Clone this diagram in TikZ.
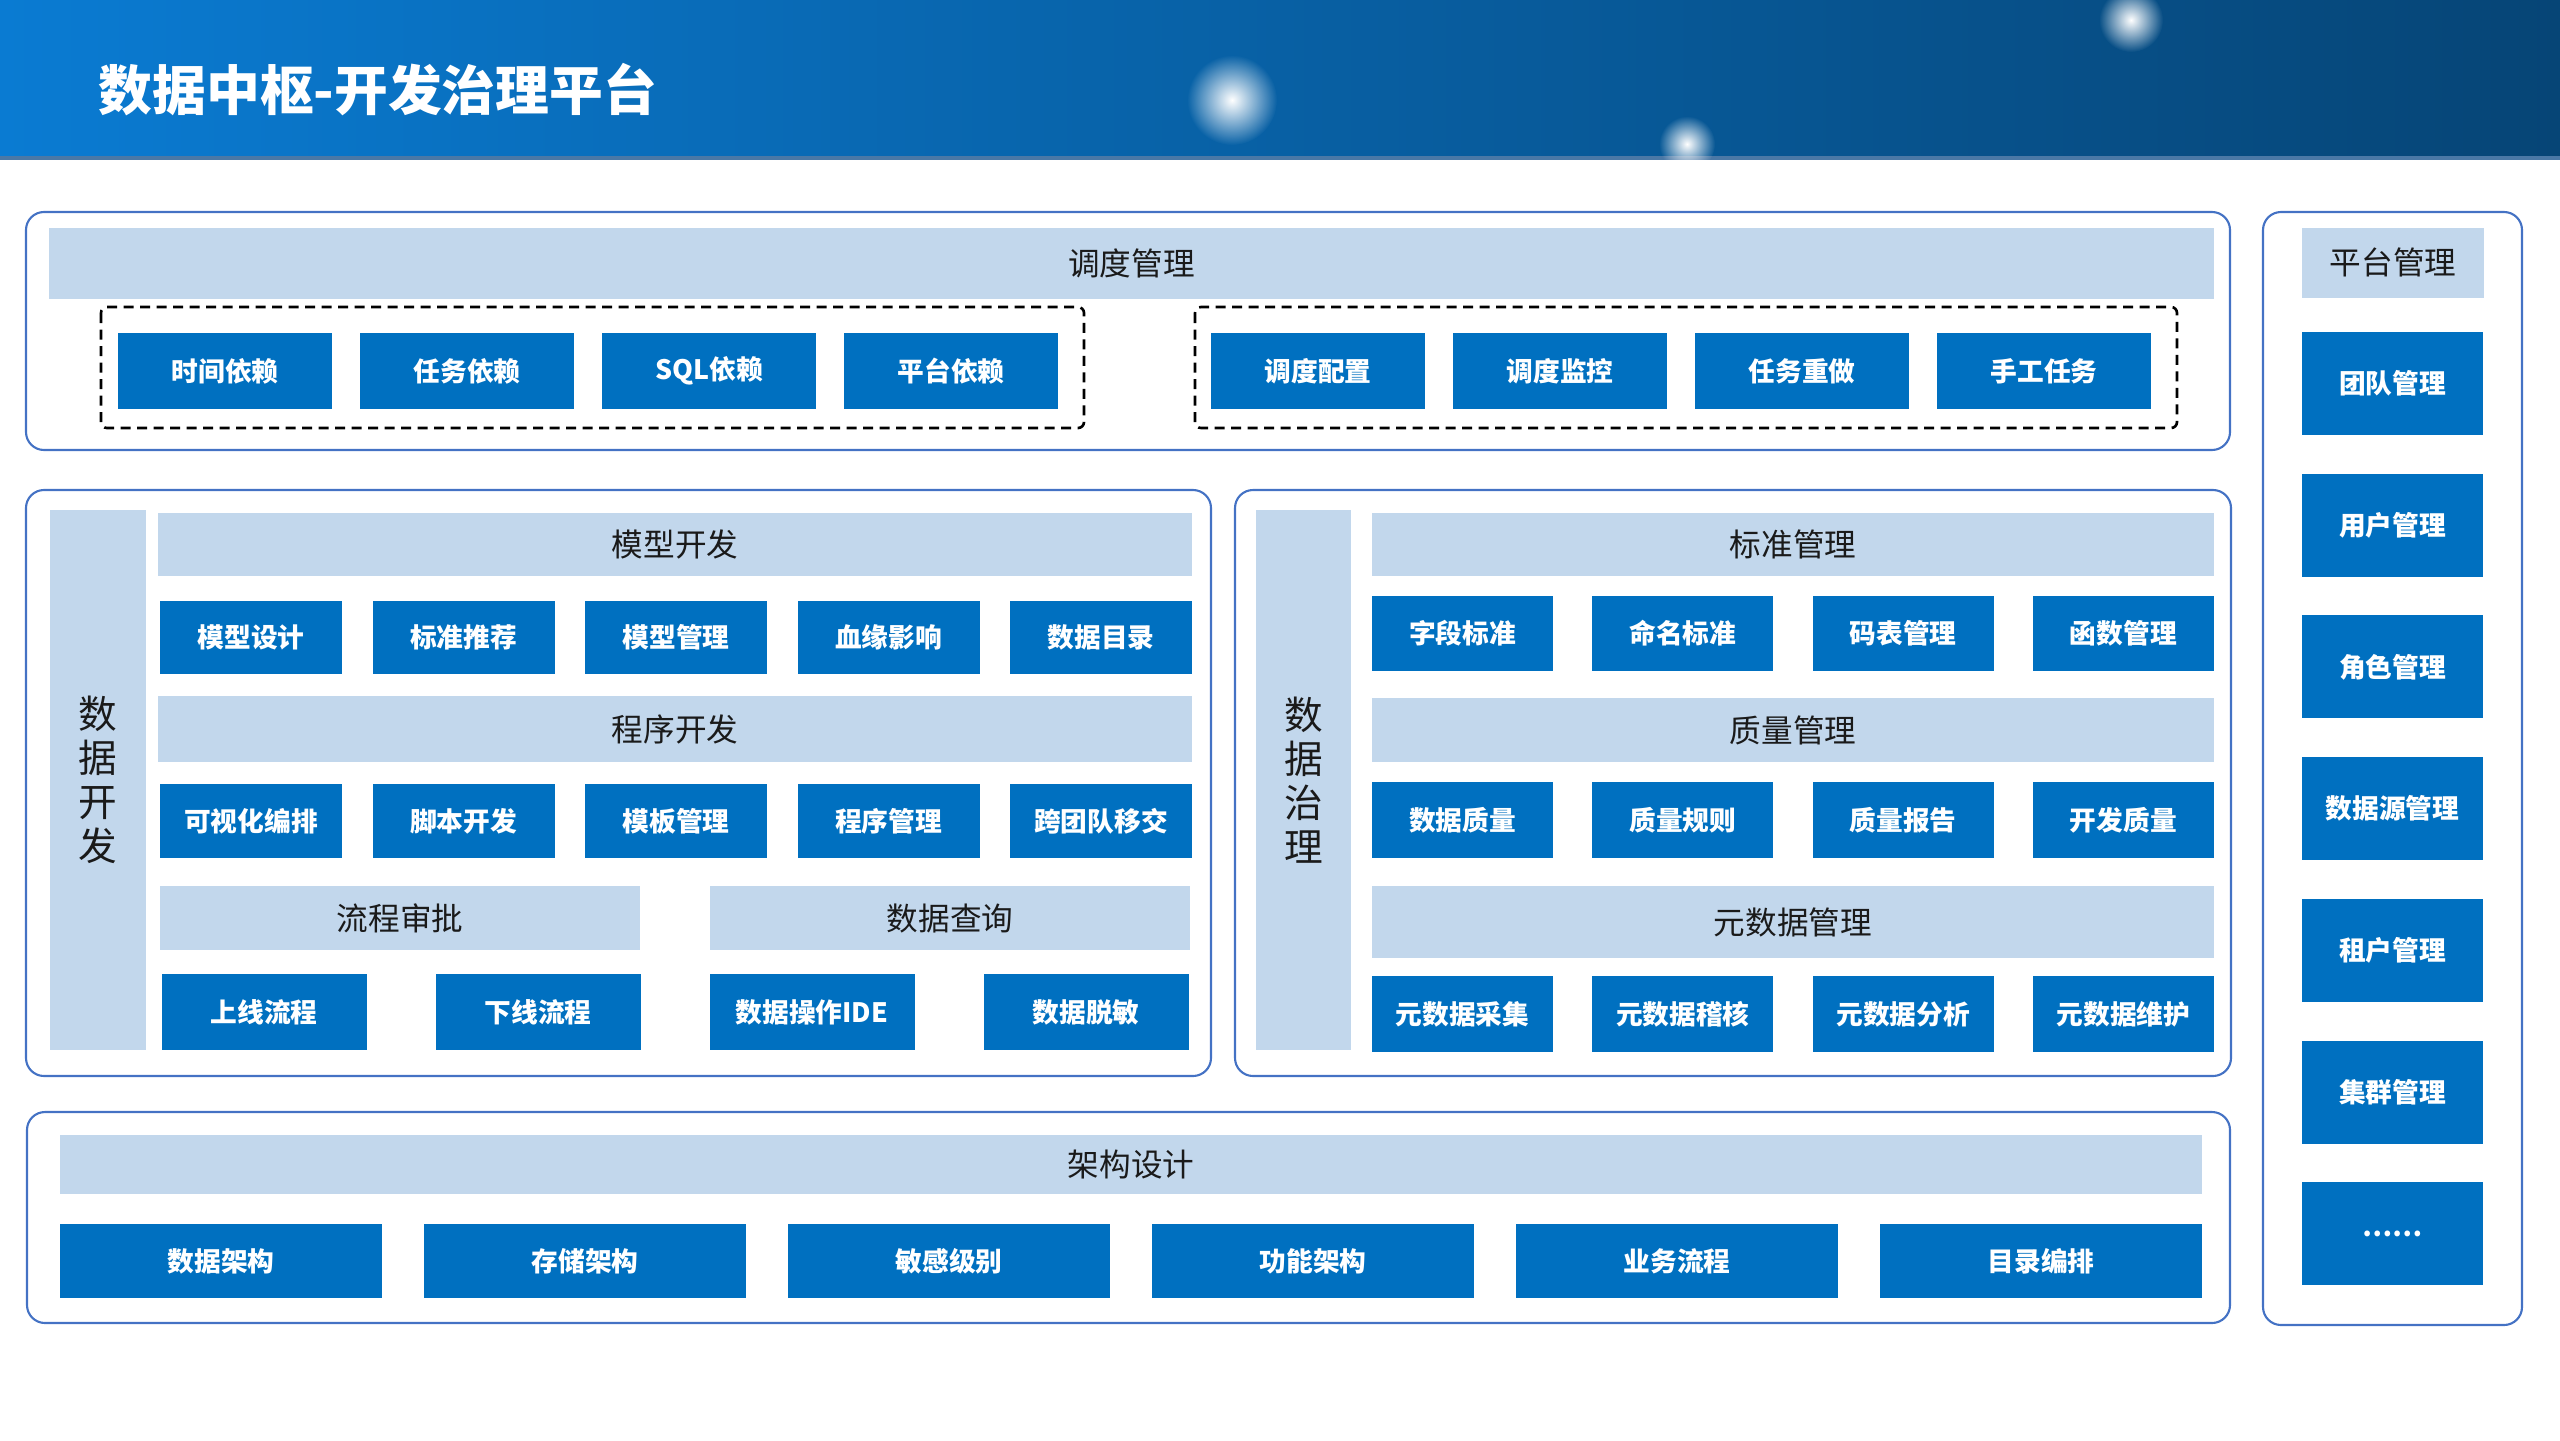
\documentclass[tikz,border=0pt]{standalone}
\usepackage{fontspec}
\setmainfont{Noto Sans CJK SC}
\usepackage{xcolor}
\definecolor{cBox}{HTML}{0070C0}
\definecolor{cBand}{HTML}{C2D7EC}
\definecolor{cLine}{HTML}{4472C4}
\definecolor{cText}{HTML}{1A1A1A}
\definecolor{cHeadL}{HTML}{0A7BD2}
\definecolor{cHeadR}{HTML}{064576}
\definecolor{cHeadEdge}{HTML}{4A78A6}
\usepackage{tikz}
\usetikzlibrary{positioning,fadings}
\tikzfading[name=glowfade,inner color=transparent!0,outer color=transparent!100]
\tikzset{
  node-item/.style={fill=cBox,text=white,inner sep=0pt,outer sep=0pt,
    minimum width=2.14cm,minimum height=7.6mm,
    font=\fontsize{7.6}{9}\selectfont\bfseries},
  node-tall/.style={node-item,minimum width=1.81cm,minimum height=10.3mm},
  node-dev/.style={node-item,minimum width=1.82cm},
  node-gov/.style={node-item,minimum width=1.81cm},
  node-arch/.style={node-item,minimum width=3.22cm,minimum height=7.4mm},
  node-band/.style={fill=cBand,text=cText,inner sep=0pt,outer sep=0pt,
    font=\fontsize{9}{11}\selectfont},
  % 左侧竖排标题
  node-side/.style={node-band,align=center,minimum height=54mm,
    font=\fontsize{11}{12.5}\selectfont},
  frame-outer/.style={draw=cLine,line width=0.6pt,rounded corners=1.8mm},
  frame-dash/.style={draw=black,line width=0.75pt,
    dash pattern=on 1mm off 0.65mm,rounded corners=0.6mm},
  glow/.style={white,path fading=glowfade},
}

\begin{document}
\begin{tikzpicture}[x=1cm,y=-1cm]
  \useasboundingbox (0,0) rectangle (25.6,14.4);
  % 标题栏
  \shade[left color=cHeadL,right color=cHeadR] (0,0) rectangle (25.6,1.58);
  \draw[cHeadEdge,line width=1pt] (0,1.58) -- (25.6,1.58);
  \fill[glow] (12.32,1.00) circle (0.45);
  \fill[glow] (21.31,0.20) circle (0.32);
  \fill[glow] (16.87,1.44) circle (0.28);
  \node[anchor=west,text=white,inner sep=0pt,
    font=\fontsize{15.3}{18}\selectfont\bfseries] (title) at (0.98,0.90) {数据中枢-开发治理平台};

  % 调度管理
  \draw[frame-outer] (0.26,2.12) rectangle (22.30,4.50);
  \node[node-band,minimum width=21.65cm,minimum height=7.1mm] (ddgl) at (11.315,2.635) {调度管理};
  \draw[frame-dash] (1.01,3.07) rectangle (10.84,4.28);
  \draw[frame-dash] (11.95,3.07) rectangle (21.77,4.28);
  \node[node-item] (sjyl) at (2.25,3.71) {时间依赖};
  \node[node-item,right=2.8mm of sjyl] (rwyl) {任务依赖};
  \node[node-item,right=2.8mm of rwyl] (sqlyl) {SQL依赖};
  \node[node-item,right=2.8mm of sqlyl] (ptyl) {平台依赖};
  \node[node-item] (ddpz) at (13.18,3.71) {调度配置};
  \node[node-item,right=2.8mm of ddpz] (ddjk) {调度监控};
  \node[node-item,right=2.8mm of ddjk] (rwcz) {任务重做};
  \node[node-item,right=2.8mm of rwcz] (sgrw) {手工任务};

  % 平台管理
  \draw[frame-outer] (22.63,2.12) rectangle (25.22,13.25);
  \node[node-band,minimum width=1.82cm,minimum height=7mm] (ptgl) at (23.93,2.625) {平台管理};
  \node[node-tall] (tdgl) at (23.925,3.835) {团队管理};
  \node[node-tall,below=3.87mm of tdgl] (yhgl) {用户管理};
  \node[node-tall,below=3.87mm of yhgl] (jsgl) {角色管理};
  \node[node-tall,below=3.87mm of jsgl] (sjygl) {数据源管理};
  \node[node-tall,below=3.87mm of sjygl] (zhgl) {租户管理};
  \node[node-tall,below=3.87mm of zhgl] (jqgl) {集群管理};
  \node[node-tall,below=3.87mm of jqgl] (more) {……};

  % 数据开发
  \draw[frame-outer] (0.26,4.90) rectangle (12.11,10.76);
  \node[node-side,minimum width=9.6mm] (sjkf) at (0.98,7.80) {数\\据\\开\\发};
  \node[node-band,minimum width=10.34cm,minimum height=6.3mm] (mxkf) at (6.75,5.445) {模型开发};
  \node[node-dev,minimum height=7.3mm] (mxsj) at (2.51,6.375) {模型设计};
  \node[node-dev,minimum height=7.3mm,right=3.05mm of mxsj] (bztj) {标准推荐};
  \node[node-dev,minimum height=7.3mm,right=3.05mm of bztj] (mxgl) {模型管理};
  \node[node-dev,minimum height=7.3mm,right=3.05mm of mxgl] (xyyx) {血缘影响};
  \node[node-dev,minimum height=7.3mm,right=3.05mm of xyyx] (sjml) {数据目录};
  \node[node-band,minimum width=10.34cm,minimum height=6.6mm] (cxkf) at (6.75,7.29) {程序开发};
  \node[node-dev,minimum height=7.4mm] (kshbp) at (2.51,8.21) {可视化编排};
  \node[node-dev,minimum height=7.4mm,right=3.05mm of kshbp] (jbkf) {脚本开发};
  \node[node-dev,minimum height=7.4mm,right=3.05mm of jbkf] (mbgl) {模板管理};
  \node[node-dev,minimum height=7.4mm,right=3.05mm of mbgl] (cxgl) {程序管理};
  \node[node-dev,minimum height=7.4mm,right=3.05mm of cxgl] (ktdyj) {跨团队移交};
  \node[node-band,minimum width=4.8cm,minimum height=6.4mm] (lcsp) at (4.00,9.18) {流程审批};
  \node[node-band,minimum width=4.8cm,minimum height=6.4mm] (sjcx) at (9.50,9.18) {数据查询};
  \node[node-item,minimum width=2.05cm] (sxlc) at (2.64,10.12) {上线流程};
  \node[node-item,minimum width=2.05cm,right=6.9mm of sxlc] (xxlc) {下线流程};
  \node[node-item,minimum width=2.05cm,right=6.9mm of xxlc] (sjczide) {数据操作IDE};
  \node[node-item,minimum width=2.05cm,right=6.9mm of sjczide] (sjtm) {数据脱敏};

  % 数据治理
  \draw[frame-outer] (12.35,4.90) rectangle (22.31,10.76);
  \node[node-side,minimum width=9.5mm] (sjzl) at (13.035,7.80) {数\\据\\治\\理};
  \node[node-band,minimum width=8.42cm,minimum height=6.3mm] (bzgl) at (17.93,5.445) {标准管理};
  \node[node-gov,minimum height=7.5mm] (zdbz) at (14.625,6.335) {字段标准};
  \node[node-gov,minimum height=7.5mm,right=3.93mm of zdbz] (mmbz) {命名标准};
  \node[node-gov,minimum height=7.5mm,right=3.93mm of mmbz] (mbgl2) {码表管理};
  \node[node-gov,minimum height=7.5mm,right=3.93mm of mbgl2] (hsgl) {函数管理};
  \node[node-band,minimum width=8.42cm,minimum height=6.4mm] (zlgl) at (17.93,7.30) {质量管理};
  \node[node-gov] (sjzlz) at (14.625,8.20) {数据质量};
  \node[node-gov,right=3.93mm of sjzlz] (zlgz) {质量规则};
  \node[node-gov,right=3.93mm of zlgz] (zlbg) {质量报告};
  \node[node-gov,right=3.93mm of zlbg] (kfzl) {开发质量};
  \node[node-band,minimum width=8.42cm,minimum height=7.2mm] (ysjgl) at (17.93,9.22) {元数据管理};
  \node[node-gov] (ysjcj) at (14.625,10.14) {元数据采集};
  \node[node-gov,right=3.93mm of ysjcj] (ysjjh) {元数据稽核};
  \node[node-gov,right=3.93mm of ysjjh] (ysjfx) {元数据分析};
  \node[node-gov,right=3.93mm of ysjfx] (ysjwh) {元数据维护};

  % 架构设计
  \draw[frame-outer] (0.27,11.12) rectangle (22.30,13.23);
  \node[node-band,minimum width=21.42cm,minimum height=5.9mm] (jgsj) at (11.31,11.645) {架构设计};
  \node[node-arch] (sjjg) at (2.21,12.61) {数据架构};
  \node[node-arch,right=4.2mm of sjjg] (ccjg) {存储架构};
  \node[node-arch,right=4.2mm of ccjg] (mgjb) {敏感级别};
  \node[node-arch,right=4.2mm of mgjb] (gnjg) {功能架构};
  \node[node-arch,right=4.2mm of gnjg] (ywlc) {业务流程};
  \node[node-arch,right=4.2mm of ywlc] (mlbp) {目录编排};
\end{tikzpicture}
\end{document}
